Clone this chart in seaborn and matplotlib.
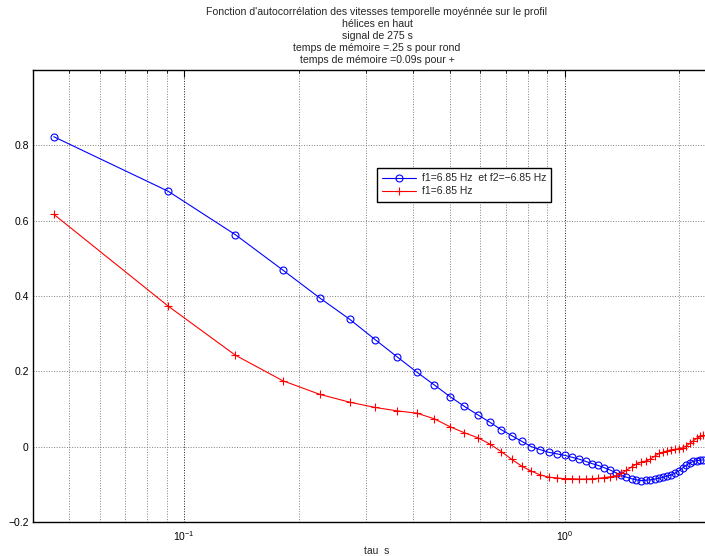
import numpy as np
import matplotlib
matplotlib.use("Agg")
import matplotlib.pyplot as plt
import seaborn as sns
from matplotlib.ticker import LogLocator, FixedLocator, FixedFormatter, NullFormatter

sns.set_style("white")
plt.rcParams["font.family"] = ["Liberation Sans", "DejaVu Sans"]
plt.rcParams["axes.unicode_minus"] = True

# Lags: sampling at 22 Hz, lag indices 1..51
sample_rate = 22.0
lag_index = np.arange(1, 52)
tau = lag_index / sample_rate

# Mean temporal autocorrelation, memory time .25 s (circles)
acf_f1_f2 = [
    0.823, 0.678, 0.563, 0.469, 0.395, 0.338, 0.284, 0.238, 0.198, 0.164,
    0.133, 0.107, 0.085, 0.065, 0.045, 0.029, 0.014, 0.000, -0.008, -0.015,
    -0.019, -0.023, -0.028, -0.033, -0.039, -0.045, -0.050, -0.056, -0.062, -0.069,
    -0.076, -0.081, -0.085, -0.088, -0.090, -0.089, -0.088, -0.086, -0.084, -0.081,
    -0.078, -0.075, -0.070, -0.064, -0.056, -0.049, -0.043, -0.039, -0.037, -0.036,
    -0.035,
]

# Mean temporal autocorrelation, memory time 0.09 s (plus signs)
acf_f1 = [
    0.617, 0.373, 0.243, 0.175, 0.139, 0.118, 0.104, 0.095, 0.089, 0.074,
    0.053, 0.037, 0.024, 0.007, -0.013, -0.034, -0.052, -0.065, -0.075, -0.081,
    -0.083, -0.085, -0.085, -0.086, -0.086, -0.085, -0.084, -0.082, -0.080, -0.077,
    -0.071, -0.063, -0.054, -0.046, -0.041, -0.038, -0.033, -0.025, -0.018, -0.014,
    -0.011, -0.008, -0.007, -0.005, -0.003, 0.002, 0.009, 0.016, 0.022, 0.027,
    0.030,
]

legend_labels = ["f1=6.85 Hz  et f2=\u22126.85 Hz", "f1=6.85 Hz"]
ytick_values = [-0.2, 0.0, 0.2, 0.4, 0.6, 0.8]
ytick_labels = ["\u22120.2", "0", "0.2", "0.4", "0.6", "0.8"]
title_lines = [
    "Fonction d'autocorrélation des vitesses temporelle moyénnée sur le profil",
    "hélices en haut",
    "signal de 275 s",
    "temps de mémoire =.25 s pour rond",
    "temps de mémoire =0.09s pour +",
]

W, H = 705, 556
fig = plt.figure(figsize=(W / 100, H / 100), dpi=100)
ax_left, ax_right, ax_top, ax_bottom = 33, 721, 70, 522
ax = fig.add_axes([ax_left / W, (H - ax_bottom) / H,
                   (ax_right - ax_left) / W, (ax_bottom - ax_top) / H])

sns.lineplot(x=tau, y=acf_f1_f2, ax=ax, color="blue", lw=0.8,
             marker="o", markersize=5, markerfacecolor="none",
             markeredgecolor="blue", markeredgewidth=0.8,
             label=legend_labels[0])
sns.lineplot(x=tau, y=acf_f1, ax=ax, color="red", lw=0.8,
             marker="+", markersize=6, markeredgecolor="red",
             markeredgewidth=0.8, label=legend_labels[1])

ax.set_xscale("log")
decade_px = 380.5
one_px = 564.5
ax.set_xlim(10 ** ((ax_left - one_px) / decade_px), 10 ** ((ax_right - one_px) / decade_px))
ax.set_ylim(-0.2, 1.0)

ax.xaxis.set_major_locator(LogLocator(base=10))
ax.xaxis.set_minor_locator(LogLocator(base=10, subs=np.arange(2, 10)))
ax.xaxis.set_minor_formatter(NullFormatter())
ax.yaxis.set_major_locator(FixedLocator(ytick_values))
ax.yaxis.set_major_formatter(FixedFormatter(ytick_labels))

ax.grid(True, which="major", axis="x", linestyle=":", color="0.1", lw=0.7)
ax.grid(True, which="minor", axis="x", linestyle=":", color="0.5", lw=0.7)
ax.grid(True, which="major", axis="y", linestyle=":", color="0.5", lw=0.7)

ax.tick_params(which="both", direction="in", top=True, right=False,
               labelsize=7.5, colors="black")
ax.tick_params(which="major", length=5, width=0.8, pad=3)
ax.tick_params(which="minor", length=2.5, width=0.6)
ax.tick_params(axis="x", which="major", pad=5)
for side in ("left", "bottom", "top"):
    ax.spines[side].set_color("black")
    ax.spines[side].set_linewidth(1.0)
ax.spines["right"].set_visible(False)

ax.set_xlabel("tau  s", fontsize=7.5, labelpad=2)
ax.set_ylabel("")
ax.set_title("\n".join(title_lines), fontsize=7.6, linespacing=1.24, pad=5)

leg = ax.legend(loc="upper left", bbox_to_anchor=(377 / W, 1 - 168 / H),
                bbox_transform=fig.transFigure, borderaxespad=0,
                fontsize=7.5, frameon=True, fancybox=False,
                edgecolor="black", framealpha=1, handlelength=3.2,
                borderpad=0.5, labelspacing=0.3, handletextpad=0.6)
leg.get_frame().set_linewidth(1.0)

fig.savefig("out.png", dpi=100)
